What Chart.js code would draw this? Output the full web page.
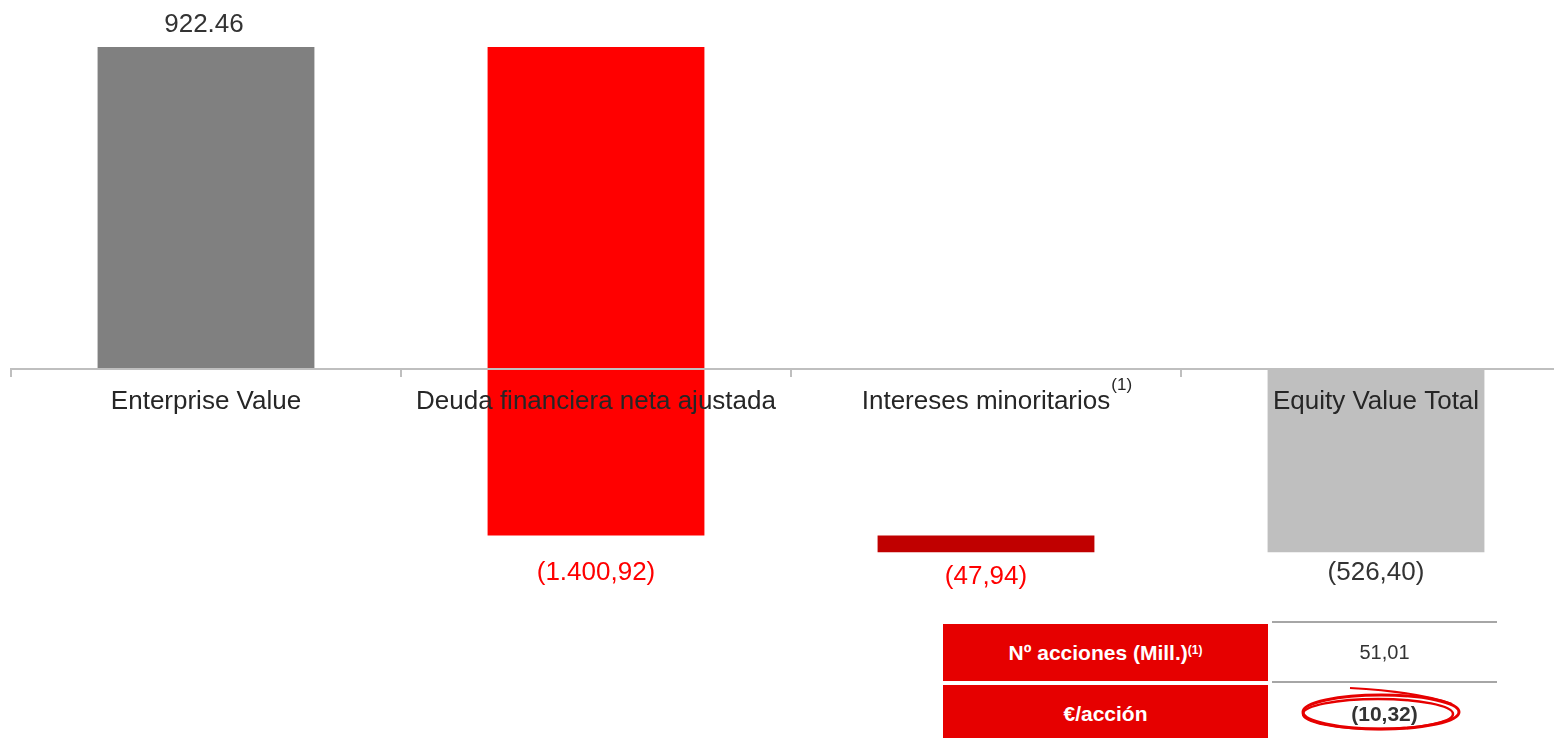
<!DOCTYPE html>
<html>
<head>
<meta charset="utf-8">
<script src="https://cdn.jsdelivr.net/npm/chart.js@4"></script>
<style>
    body { margin: 0; overflow: hidden; background: #ffffff; font-family: "Liberation Sans", Arial, sans-serif; }
    #grafico { position: absolute; left: 0; top: 0; }
    .celda-roja { position: absolute; left: 943px; width: 325px; background: #e60000; color: #ffffff;
                  font-weight: bold; font-size: 21px; display: flex; align-items: center; justify-content: center; }
    .celda-valor { position: absolute; left: 1272px; width: 225px; color: #333333; font-size: 20px;
                   display: flex; align-items: center; justify-content: center; }
    .linea { position: absolute; left: 1272px; width: 225px; height: 2px; background: #a6a6a6; }
    sup { font-size: 12px; position: relative; top: -3px; vertical-align: top; }
</style>
</head>
<body>
<canvas id="grafico" width="1571" height="738"></canvas>

<div class="linea" style="top:621px"></div>
<div class="linea" style="top:681px"></div>
<div class="celda-roja" id="fila1" style="top:624px;height:57px"></div>
<div class="celda-roja" id="fila2" style="top:685px;height:58px"></div>
<div class="celda-valor" id="valor1" style="top:624px;height:57px"></div>
<div class="celda-valor" id="valor2" style="top:685px;height:57px;font-weight:bold;font-size:21px"></div>
<svg style="position:absolute;left:0;top:0" width="1554" height="738">
    <ellipse cx="1381" cy="712" rx="78" ry="17" fill="none" stroke="#e60000" stroke-width="3"/>
    <ellipse cx="1378" cy="714" rx="75" ry="15" fill="none" stroke="#e60000" stroke-width="2.5"/>
    <path d="M1350 688 Q1420 692 1452 704" fill="none" stroke="#e60000" stroke-width="2"/>
</svg>

<script>
// datos del gráfico (millones de euros)
var categorias = ["Enterprise Value", "Deuda financiera neta ajustada", "Intereses minoritarios", "Equity Value Total"];
var valores = [922.46, -1400.92, -47.94, -526.40];
var etiquetas = ["922.46", "(1.400,92)", "(47,94)", "(526,40)"];
var notas = ["", "", "(1)", ""];

// tabla inferior
var filasTabla = ["Nº acciones (Mill.)", "€/acción"];
var notasTabla = ["(1)", ""];
var valoresTabla = ["51,01", "(10,32)"];

var colores = ["#808080", "#ff0000", "#c00000", "#bfbfbf"];
var coloresEtiqueta = ["#333333", "#ff0000", "#ff0000", "#333333"];
var separacion = [22, 37, 24, 20];

// barras flotantes de la cascada
var rangos = [];
var acumulado = 0;
for (var i = 0; i < valores.length; i++) {
    if (i == 0 || i == valores.length - 1) {
        rangos.push([0, valores[i]]);
        acumulado = valores[i];
    } else {
        rangos.push([acumulado, acumulado + valores[i]]);
        acumulado = acumulado + valores[i];
    }
}

var pluginEtiquetas = {
    id: "etiquetas",
    afterDraw: function (chart) {
        var ctx = chart.ctx;
        var barras = chart.getDatasetMeta(0).data;
        ctx.save();
        ctx.font = "26px 'Liberation Sans'";
        ctx.textAlign = "center";
        ctx.textBaseline = "middle";
        for (var i = 0; i < barras.length; i++) {
            var b = barras[i];
            var arriba = Math.min(b.y, b.base);
            var abajo = Math.max(b.y, b.base);
            ctx.fillStyle = coloresEtiqueta[i];
            if (valores[i] > 0) {
                ctx.fillText(etiquetas[i], b.x - 2, arriba - separacion[i]);
            } else {
                ctx.fillText(etiquetas[i], b.x, abajo + separacion[i]);
            }
        }
        // notas (1) junto a las categorías
        var escalaX = chart.scales.x;
        var cero = chart.scales.y.getPixelForValue(0);
        for (var j = 0; j < notas.length; j++) {
            if (notas[j] == "") continue;
            ctx.font = "26px 'Liberation Sans'";
            var ancho = ctx.measureText(categorias[j]).width;
            ctx.font = "17px 'Liberation Sans'";
            ctx.fillStyle = "#262626";
            ctx.textAlign = "left";
            ctx.fillText(notas[j], escalaX.getPixelForTick(j) + ancho / 2 + 1, cero + 17);
        }
        ctx.restore();
    }
};

new Chart(document.getElementById("grafico").getContext("2d"), {
    type: "bar",
    data: {
        labels: categorias,
        datasets: [{
            data: rangos,
            backgroundColor: colores,
            barPercentage: 0.556,
            categoryPercentage: 1
        }]
    },
    options: {
        responsive: false,
        animation: false,
        devicePixelRatio: 1,
        layout: { padding: { left: 11, right: 0, top: 20, bottom: 160 } },
        plugins: { legend: { display: false }, tooltip: { enabled: false } },
        scales: {
            y: { display: false, min: -600, max: 1000 },
            x: {
                position: { y: 0 },
                grid: { display: true, drawOnChartArea: false, drawTicks: true, tickLength: 7, color: "#bfbfbf", lineWidth: 2, offset: true, z: 1 },
                border: { display: true, color: "#bfbfbf", width: 2, z: 1 },
                ticks: { color: "#262626", font: { family: "Liberation Sans", size: 26 }, padding: 10, autoSkip: false, maxRotation: 0, minRotation: 0, z: 1 },
                afterFit: function (escala) { escala.height = 0; }
            }
        }
    },
    plugins: [pluginEtiquetas]
});

for (var k = 0; k < filasTabla.length; k++) {
    var texto = filasTabla[k];
    if (notasTabla[k] != "") texto += "<sup>" + notasTabla[k] + "</sup>";
    document.getElementById("fila" + (k + 1)).innerHTML = texto;
    document.getElementById("valor" + (k + 1)).innerHTML = valoresTabla[k];
}
</script>
</body>
</html>
